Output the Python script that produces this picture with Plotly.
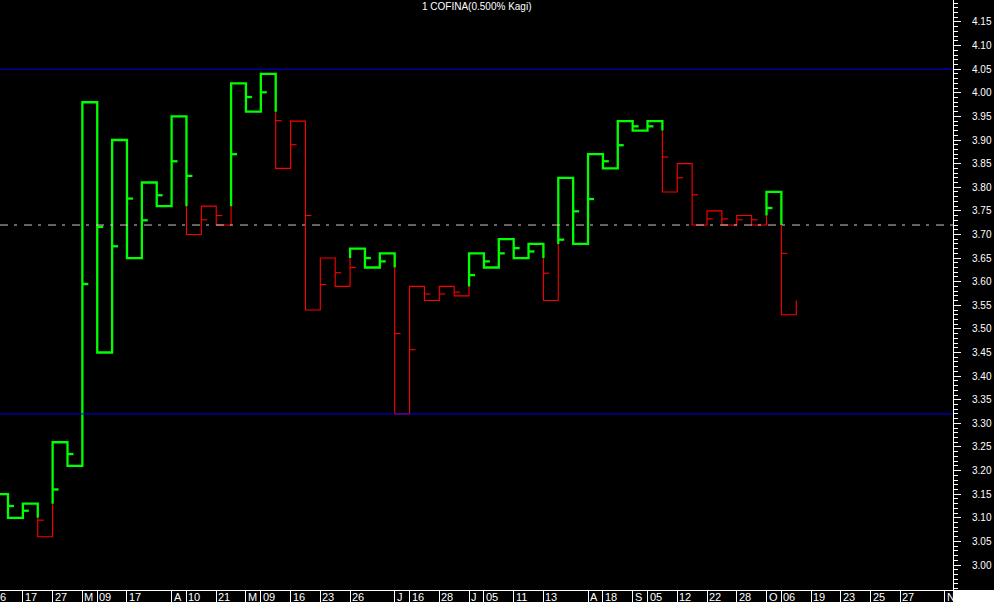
import plotly.graph_objects as go

# ---------------- data ----------------
# Kagi turning levels: levels[0] is the level entering column 0,
# vertical at column c runs from levels[c] to levels[c+1]
levels = [3.15, 3.10, 3.13, 3.06, 3.26, 3.21, 3.98, 3.45, 3.90, 3.65,
          3.81, 3.76, 3.95, 3.70, 3.76, 3.72, 4.02, 3.96, 4.04, 3.84,
          3.94, 3.54, 3.65, 3.59, 3.67, 3.63, 3.66, 3.32, 3.59, 3.56,
          3.59, 3.57, 3.66, 3.63, 3.69, 3.65, 3.68, 3.56, 3.82, 3.68,
          3.87, 3.84, 3.94, 3.92, 3.94, 3.79, 3.85, 3.72, 3.75, 3.72,
          3.74, 3.72, 3.79, 3.53, 3.56]

# small side marks (one per column 0..52)
mark_levels = [3.125, 3.115, 3.095, 3.160, 3.235, 3.595, 3.716, 3.675, 3.776, 3.730,
               3.783, 3.855, 3.824, 3.731, 3.740, 3.870, 3.991, 4.001, 3.941, 3.890,
               3.740, 3.594, 3.619, 3.630, 3.650, 3.643, 3.490, 3.456, 3.574, 3.574,
               3.578, 3.614, 3.643, 3.660, 3.671, 3.664, 3.618, 3.689, 3.749, 3.775,
               3.855, 3.889, 3.929, 3.929, 3.864, 3.820, 3.784, 3.733, 3.733, 3.731,
               3.731, 3.756, 3.660]

x_label_cols = [1, 3, 5, 6, 8, 11, 12, 14, 16, 17, 19, 21, 23, 26, 27, 29, 31, 32,
                34, 36, 39, 40, 42, 43, 45, 47, 49, 51, 52, 54, 56, 58, 60, 63]
x_label_text = ["17", "27", "M", "09", "17", "A", "10", "21", "M", "09", "16", "23",
                "26", "J", "16", "28", "J", "05", "11", "13", "A", "18", "S", "05",
                "12", "22", "28", "O", "06", "19", "23", "25", "27", "N"]
first_partial_label = "6"

y_tick_vals = [3.00, 3.05, 3.10, 3.15, 3.20, 3.25, 3.30, 3.35, 3.40, 3.45, 3.50, 3.55,
               3.60, 3.65, 3.70, 3.75, 3.80, 3.85, 3.90, 3.95, 4.00, 4.05, 4.10, 4.15]

ref_high = 4.05
ref_low = 3.32
ref_mid = 3.72
title_text = "1 COFINA(0.500% Kagi)"

# ---------------- styles ----------------
GREEN = "#00ff00"
RED = "#ff0000"
FONT = "Liberation Sans, Arial, sans-serif"

# ---------------- build Kagi segments ----------------
segs = []   # (x0, y0, x1, y1, state)
state = "yang"
last_sh = levels[0]
last_wa = None
segs.append((-1, levels[0], 0, levels[0], state))
col_info = []
ncol = len(levels) - 1
for c in range(ncol):
    a, b = levels[c], levels[c + 1]
    before = state
    t = None
    if b > a:
        if state == "yin" and last_sh is not None and b > last_sh:
            t = max(last_sh, a)
            state = "yang"
    else:
        if state == "yang" and last_wa is not None and b < last_wa:
            t = min(last_wa, a)
            state = "yin"
    if t is None:
        segs.append((c, a, c, b, before))
    else:
        segs.append((c, a, c, t, before))
        segs.append((c, t, c, b, state))
    col_info.append((a, t, before, state))
    if b > a:
        last_sh = b
    else:
        last_wa = b
    if c < ncol - 1:
        segs.append((c, b, c + 1, b, state))

# merge into runs by state
runs = {"yang": ([], []), "yin": ([], [])}
cur_state = None
cur_x, cur_y = [], []
for (x0, y0, x1, y1, s) in segs:
    if s == cur_state and cur_x and cur_x[-1] == x0 and cur_y[-1] == y0:
        cur_x.append(x1); cur_y.append(y1)
    else:
        if cur_state is not None:
            runs[cur_state][0].extend(cur_x + [None])
            runs[cur_state][1].extend(cur_y + [None])
        cur_state = s
        cur_x, cur_y = [x0, x1], [y0, y1]
runs[cur_state][0].extend(cur_x + [None])
runs[cur_state][1].extend(cur_y + [None])

# side marks
mark_len = 0.4
marks = {"yang": ([], []), "yin": ([], [])}
for c, v in enumerate(mark_levels):
    a, t, before, after = col_info[c]
    if t is None:
        s = before
    else:
        s = before if (v - t) * (a - t) > 0 else after
    marks[s][0].extend([c, c + mark_len, None])
    marks[s][1].extend([v, v, None])

fig = go.Figure()
for s, color, w in (("yin", RED, 1.1), ("yang", GREEN, 2.3)):
    fig.add_trace(go.Scatter(x=runs[s][0], y=runs[s][1], mode="lines",
                             line=dict(color=color, width=w), hoverinfo="skip",
                             showlegend=False))
    fig.add_trace(go.Scatter(x=marks[s][0], y=marks[s][1], mode="lines",
                             line=dict(color=color, width=w), hoverinfo="skip",
                             showlegend=False))

# reference lines
fig.add_hline(y=ref_high, line=dict(color="#0000ee", width=1))
fig.add_hline(y=ref_low, line=dict(color="#0000ee", width=1))
fig.add_hline(y=ref_mid, line=dict(color="#d4c8c8", width=1, dash="8px,6px,3px,7px"))

# white corner block bottom-right
fig.add_shape(type="rect", xref="paper", yref="paper", x0=1.0, x1=1.1, y0=0, y1=-0.1,
              fillcolor="white", line=dict(width=0), layer="above")

annotations = []
for c, txt in zip(x_label_cols, x_label_text):
    annotations.append(dict(x=c, xref="x", y=0, yref="paper", yanchor="top",
                            xanchor="left", text=txt, showarrow=False, xshift=0,
                            yshift=1, font=dict(color="white", size=11, family=FONT)))
annotations.append(dict(x=0, xref="paper", y=0, yref="paper", yanchor="top",
                        xanchor="left", text=first_partial_label, showarrow=False,
                        xshift=-2, yshift=1, font=dict(color="white", size=11, family=FONT)))
annotations.append(dict(x=0.5, xref="paper", y=1, yref="paper", yanchor="top",
                        xanchor="center", text=title_text, showarrow=False, yshift=1,
                        font=dict(color="white", size=10, family=FONT)))

fig.update_layout(
    width=994, height=602,
    margin=dict(l=0, r=41, t=0, b=12, pad=0),
    paper_bgcolor="black", plot_bgcolor="black",
    showlegend=False,
    annotations=annotations,
    font=dict(family=FONT, color="white", size=10),
    xaxis=dict(range=[-0.538, 63.54], showgrid=False, zeroline=False,
               showline=True, linecolor="white", linewidth=1,
               ticks="outside", ticklen=12, tickcolor="white", tickwidth=1,
               tickmode="array", tickvals=x_label_cols, showticklabels=False),
    yaxis=dict(range=[2.9471, 4.1965], side="right", showgrid=False, zeroline=False,
               showline=True, linecolor="white", linewidth=1,
               ticks="outside", ticklen=7, tickcolor="white", tickwidth=1,
               tickmode="array", tickvals=y_tick_vals,
               ticktext=["%.2f" % v for v in y_tick_vals],
               tickfont=dict(color="white", size=10, family=FONT),
               ticklabelstandoff=9,
               minor=dict(tickmode="linear", tick0=3.0, dtick=0.01, ticks="outside",
                          ticklen=4, tickcolor="white", tickwidth=1, showgrid=False)),
)

fig.write_html("out.html", config={"displayModeBar": False},
               post_script="document.body.style.margin='0';document.body.style.overflow='hidden';")
